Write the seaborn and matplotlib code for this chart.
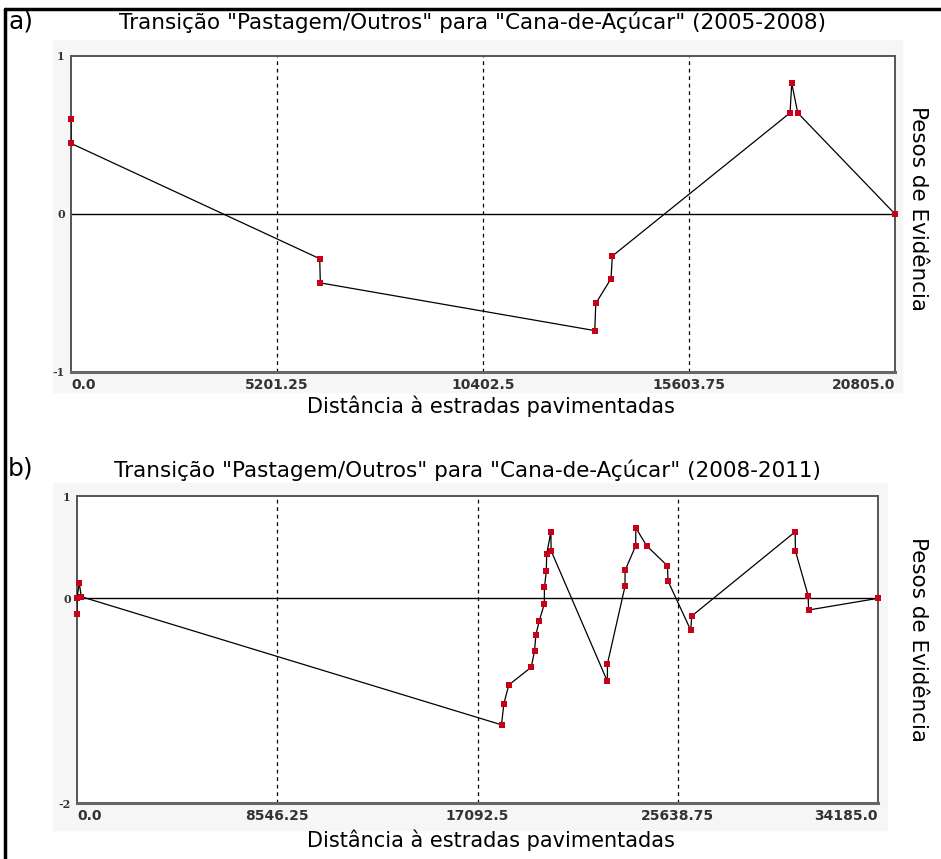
import matplotlib
matplotlib.use('Agg')
import matplotlib.pyplot as plt
import seaborn as sns
from matplotlib.patches import Rectangle
from matplotlib.lines import Line2D

# Painel a) 2005-2008
dist_a = [0, 0, 6280, 6295, 13225, 13250, 13635, 13668, 18155, 18198, 18349, 20805]
peso_a = [0.604, 0.447, -0.283, -0.436, -0.738, -0.566, -0.409, -0.266, 0.640, 0.828, 0.640, 0.0]

# Painel b) 2008-2011
dist_b = [0, 0, 98, 180, 18118, 18216, 18430, 19387, 19528, 19583, 19729, 19942, 19950,
          20030, 20045, 20224, 20235, 22634, 22640, 23387, 23392, 23843, 23850, 24313,
          25198, 25224, 26194, 26236, 30650, 30660, 31205, 31222, 34185]
peso_b = [-0.156, 0.0, 0.152, 0.016, -1.236, -1.031, -0.846, -0.673, -0.511, -0.358, -0.219,
          -0.056, 0.107, 0.269, 0.432, 0.650, 0.464, -0.810, -0.638, 0.117, 0.273, 0.513,
          0.689, 0.513, 0.318, 0.169, -0.312, -0.173, 0.650, 0.464, 0.025, -0.114, 0.0]

xticks_a = [0.0, 5201.25, 10402.5, 15603.75, 20805.0]
xticks_b = [0.0, 8546.25, 17092.5, 25638.75, 34185.0]
yticks_a = [-1, 0, 1]
yticks_b = [-2, 0, 1]

titulo_a = 'Transição "Pastagem/Outros" para "Cana-de-Açúcar" (2005-2008)'
titulo_b = 'Transição "Pastagem/Outros" para "Cana-de-Açúcar" (2008-2011)'
xlabel = 'Distância à estradas pavimentadas'
ylabel = 'Pesos de Evidência'

sns.set_style('white')
plt.rcParams['font.family'] = ['DejaVu Sans']
plt.rcParams['text.color'] = 'black'

fig = plt.figure(figsize=(9.41, 8.59), dpi=100)

# fundo cinza claro atrás de cada gráfico
fig.patches.append(Rectangle((53 / 941, 1 - 392 / 859), 849 / 941, 352 / 859,
                             transform=fig.transFigure, color='#f6f6f6', zorder=-1))
fig.patches.append(Rectangle((53 / 941, 1 - 830 / 859), 834 / 941, 347 / 859,
                             transform=fig.transFigure, color='#f6f6f6', zorder=-1))

ax_a = fig.add_axes([71 / 941, 1 - 372 / 859, 824 / 941, 316 / 859])
ax_b = fig.add_axes([77 / 941, 1 - 803 / 859, 801 / 941, 307 / 859])

paineis = [
    (ax_a, dist_a, peso_a, xticks_a, yticks_a, (-1, 1)),
    (ax_b, dist_b, peso_b, xticks_b, yticks_b, (-2, 1)),
]

for ax, xs, ys, xt, yt, ylim in paineis:
    ax.set_facecolor('white')
    for v in xt[1:-1]:
        ax.axvline(v, color='black', ls=(0, (3, 3)), lw=0.9, zorder=1)
    ax.axhline(0, color='black', lw=1.0, zorder=1)
    sns.lineplot(x=xs, y=ys, sort=False, estimator=None, color='black', lw=0.9,
                 ax=ax, zorder=3)
    sns.scatterplot(x=xs, y=ys, marker='s', s=16, color='#c8001a', linewidth=0,
                    ax=ax, zorder=4, clip_on=False)
    ax.set_xlim(xt[0], xt[-1])
    ax.set_ylim(*ylim)
    ax.set_xticks(xt)
    ax.set_xticklabels([str(v) for v in xt], fontweight='bold', fontsize=10,
                       color='black')
    labs = ax.get_xticklabels()
    labs[0].set_ha('left')
    labs[-1].set_ha('right')
    ax.set_yticks(yt)
    ax.set_yticklabels([str(v) for v in yt], fontfamily='DejaVu Serif',
                       fontweight='bold', fontsize=8, color='black')
    ax.tick_params(axis='both', direction='inout', length=5, width=0.8,
                   colors='#333333', pad=2)
    for s in ['left', 'right', 'top']:
        ax.spines[s].set_color('#555555')
        ax.spines[s].set_linewidth(1.4)
    ax.spines['bottom'].set_color('#666666')
    ax.spines['bottom'].set_linewidth(2.2)
    ax.set_xlabel('')
    ax.set_ylabel('')

# títulos e rótulos
fig.text(0.502, 0.974, titulo_a, ha='center', va='center', fontsize=15.5)
fig.text(0.497, 0.453, titulo_b, ha='center', va='center', fontsize=15.5)
fig.text(0.022, 0.975, 'a)', ha='center', va='center', fontsize=18)
fig.text(0.022, 0.455, 'b)', ha='center', va='center', fontsize=18)
fig.text(0.522, 0.527, xlabel, ha='center', va='center', fontsize=15)
fig.text(0.522, 0.022, xlabel, ha='center', va='center', fontsize=15)
fig.text(0.9755, 0.757, ylabel, rotation=-90, ha='center', va='center', fontsize=15.5)
fig.text(0.9755, 0.255, ylabel, rotation=-90, ha='center', va='center', fontsize=15.5)

# moldura superior e esquerda
fig.add_artist(Line2D([5 / 941, 1], [1 - 9 / 859, 1 - 9 / 859], color='black', lw=2.5,
                      transform=fig.transFigure))
fig.add_artist(Line2D([5 / 941, 5 / 941], [0, 1 - 9 / 859], color='black', lw=2.5,
                      transform=fig.transFigure))

fig.savefig('out.png', dpi=100)
